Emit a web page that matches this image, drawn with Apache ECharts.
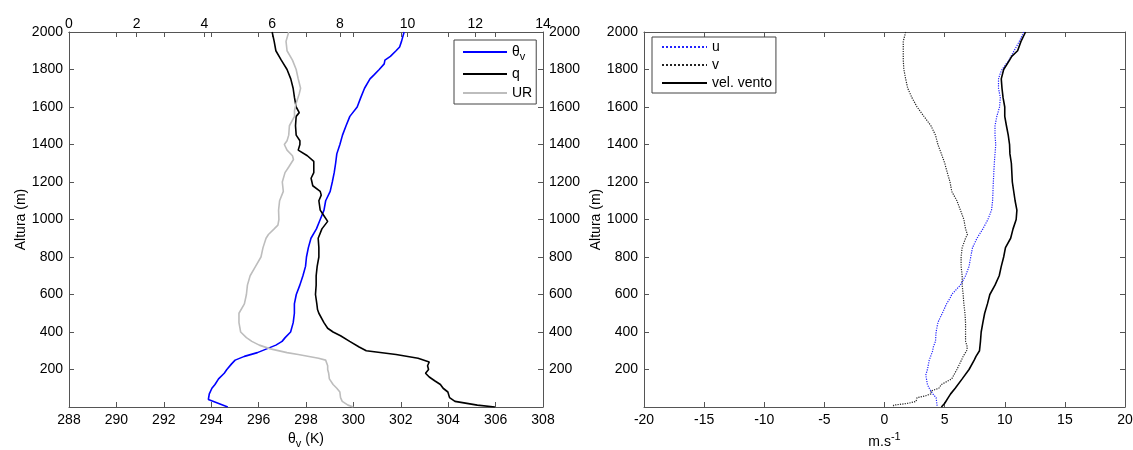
<!DOCTYPE html>
<html>
<head>
<meta charset="utf-8">
<script src="https://cdn.jsdelivr.net/npm/echarts@6/dist/echarts.min.js"></script>
<style>
  html, body { margin: 0; padding: 0; background: #fff; }
  #chart { width: 1133px; height: 450px; }
</style>
</head>
<body>
<div id="chart"></div>
<script>
// Virtual potential temperature profile (K) vs height (m)
const thetaAlt = [2000,1950,1920,1900,1870,1850,1830,1800,1770,1750,1700,1650,1600,1550,1500,1450,1400,1350,1300,1250,1200,1150,1100,1050,1000,950,900,850,800,750,700,650,600,550,500,450,400,370,350,330,310,290,270,250,230,200,180,150,120,100,70,40,30,0];
const thetaV = [302.14,302.03,301.95,301.80,301.56,301.33,301.30,301.09,300.86,300.70,300.47,300.31,300.16,299.85,299.69,299.54,299.43,299.30,299.25,299.19,299.11,299.02,298.83,298.76,298.60,298.44,298.21,298.10,298.02,297.98,297.87,297.74,297.59,297.51,297.51,297.46,297.35,297.12,296.99,296.73,296.34,295.95,295.40,295.01,294.86,294.66,294.55,294.31,294.16,294.03,293.92,293.88,293.85,294.70];

// Specific humidity (top axis)
const qAlt = [2000,1950,1900,1850,1800,1750,1700,1650,1600,1570,1550,1500,1450,1420,1400,1370,1340,1310,1250,1220,1180,1150,1130,1100,1050,1020,990,950,900,850,800,750,700,650,600,550,520,500,450,420,400,380,350,320,300,280,260,240,220,200,180,160,140,120,100,80,50,30,10,0];
const qV = [6.00,6.06,6.11,6.27,6.44,6.55,6.62,6.66,6.71,6.80,6.71,6.69,6.71,6.82,6.82,6.77,7.04,7.23,7.23,7.15,7.20,7.42,7.45,7.38,7.42,7.53,7.64,7.47,7.36,7.38,7.38,7.33,7.30,7.30,7.28,7.32,7.34,7.38,7.53,7.64,7.80,8.02,8.29,8.57,8.78,9.66,10.31,10.64,10.59,10.62,10.53,10.64,10.80,10.97,11.05,11.19,11.24,11.40,12.06,12.58];

// Relative humidity (top axis)
const urAlt = [2000,1950,1900,1850,1800,1750,1700,1670,1620,1580,1550,1500,1450,1420,1400,1370,1340,1320,1280,1250,1200,1150,1100,1050,1000,970,950,920,900,850,800,750,700,650,600,550,500,450,400,370,350,330,310,290,280,260,250,220,200,180,150,120,100,80,50,30,10,0];
const urV = [6.49,6.41,6.44,6.60,6.71,6.77,6.84,6.80,6.71,6.66,6.66,6.51,6.49,6.44,6.36,6.44,6.60,6.63,6.49,6.38,6.30,6.33,6.22,6.19,6.20,6.17,6.06,5.89,5.82,5.73,5.67,5.51,5.35,5.27,5.24,5.18,5.02,5.02,5.07,5.24,5.40,5.62,5.95,6.44,6.77,7.37,7.58,7.64,7.64,7.67,7.69,7.80,7.91,8.00,8.02,8.07,8.24,8.40];

// Wind components and speed (m/s)
const uAlt = [2000,1950,1900,1850,1800,1780,1750,1700,1650,1600,1550,1500,1450,1400,1300,1200,1100,1050,1000,950,900,850,800,750,700,650,600,580,550,500,470,450,400,350,320,300,250,200,170,150,120,100,70,50,20,0];
const uV = [11.59,11.21,10.78,10.35,9.77,9.63,9.48,9.48,9.63,9.57,9.34,9.19,9.19,9.25,9.13,9.05,8.99,8.90,8.60,8.18,7.69,7.32,7.17,7.03,6.74,6.31,5.59,5.45,5.16,4.81,4.58,4.44,4.29,4.24,4.06,4.01,3.72,3.57,3.43,3.49,3.57,3.72,4.01,4.29,4.35,4.38];

const vAlt = [2000,1950,1900,1850,1800,1750,1700,1650,1600,1550,1500,1450,1400,1350,1300,1250,1200,1150,1100,1050,1000,950,920,900,850,800,750,700,650,600,550,500,450,400,350,320,300,270,250,200,150,120,100,85,70,60,50,30,20,10,0];
const vV = [1.76,1.56,1.56,1.56,1.61,1.76,1.93,2.28,2.71,3.28,3.86,4.24,4.44,4.73,5.01,5.22,5.45,5.59,6.02,6.31,6.60,6.74,6.89,6.74,6.46,6.37,6.37,6.46,6.46,6.54,6.60,6.69,6.74,6.74,6.74,6.89,6.83,6.54,6.40,6.02,5.59,4.73,4.52,3.86,3.86,3.43,2.71,2.62,1.99,0.78,0.69];

const wsAlt = [2000,1950,1900,1870,1850,1800,1750,1700,1650,1600,1550,1500,1450,1400,1350,1300,1200,1100,1050,1000,950,900,850,800,750,700,650,600,550,500,450,400,350,300,270,250,200,150,100,70,50,20,0];
const wsV = [11.73,11.35,11.07,10.58,10.40,9.91,9.71,9.77,9.86,10.00,10.00,10.14,10.29,10.40,10.43,10.55,10.63,10.86,11.01,10.95,10.69,10.49,10.06,9.91,9.71,9.54,9.19,8.76,8.56,8.33,8.18,8.04,7.98,7.90,7.61,7.46,7.03,6.46,5.88,5.50,5.30,5.01,4.73];

const pairs = (xs, ys) => xs.map((x, i) => [x, ys[i]]);

const FONT = "'Liberation Sans', Arial, sans-serif";
const AXIS_COLOR = '#555';
const FS = 14;
const textStyle = { color: '#000', fontFamily: FONT, fontSize: FS };
const plain = v => String(v);

function xAx(opts, labelOpts) {
  return Object.assign({
    type: 'value',
    axisLine: { show: true, onZero: false, lineStyle: { color: AXIS_COLOR, width: 1 } },
    axisTick: { show: true, inside: true, length: 5, lineStyle: { color: AXIS_COLOR } },
    axisLabel: Object.assign({ margin: 6, formatter: plain }, textStyle, labelOpts || {}),
    splitLine: { show: false }
  }, opts);
}
function yAx(opts, labelOpts) {
  return Object.assign({
    type: 'value', min: 0, max: 2000, interval: 200,
    axisLine: { show: true, onZero: false, lineStyle: { color: AXIS_COLOR, width: 1 } },
    axisTick: { show: true, inside: true, length: 5, lineStyle: { color: AXIS_COLOR } },
    axisLabel: Object.assign({ margin: 6, showMinLabel: false, formatter: plain }, textStyle, labelOpts || {}),
    splitLine: { show: false }
  }, opts);
}

const subRich = {
  t: { fontSize: FS, fontFamily: FONT, color: '#000' },
  s: { fontSize: 11, fontFamily: FONT, color: '#000', padding: [9, 0, 0, 0] },
  p: { fontSize: 11, fontFamily: FONT, color: '#000', padding: [0, 0, 9, 0] }
};

// Both panels share the same vertical extent; outer-bounds shrinking is turned off
// so the plot rectangles stay exactly where they are placed.
const LEFT_RECT = { left: 69, right: 590, top: 32, bottom: 43, outerBoundsMode: 'none', containLabel: false };
const RIGHT_RECT = { left: 644, right: 8, top: 32, bottom: 43, outerBoundsMode: 'none', containLabel: false };

const chart = echarts.init(document.getElementById('chart'), null, { renderer: 'canvas' });

chart.setOption({
  animation: false,
  backgroundColor: '#fff',
  textStyle: { fontFamily: FONT },
  grid: [
    Object.assign({}, LEFT_RECT),
    Object.assign({}, RIGHT_RECT),
    Object.assign({}, LEFT_RECT)   // overlay holding the θ ticks along the top edge
  ],
  xAxis: [
    xAx({ gridIndex: 0, position: 'bottom', min: 288, max: 308, interval: 2,
      name: '{t|θ}{s|v}{t| (K)}', nameLocation: 'middle', nameGap: 22,
      nameTextStyle: Object.assign({}, textStyle, { rich: subRich }) }),
    xAx({ gridIndex: 0, position: 'top', min: 0, max: 14, interval: 2 }, { margin: 1 }),
    xAx({ gridIndex: 1, position: 'bottom', min: -20, max: 20, interval: 5,
      name: '{t|m.s}{p|-1}', nameLocation: 'middle', nameGap: 21,
      nameTextStyle: Object.assign({}, textStyle, { rich: subRich }) }),
    xAx({ gridIndex: 1, position: 'top', min: -20, max: 20, interval: 5 }, { show: false }),
    xAx({ gridIndex: 2, position: 'top', min: 288, max: 308, interval: 2 }, { show: false })
  ],
  yAxis: [
    yAx({ gridIndex: 0, position: 'left', name: 'Altura (m)', nameLocation: 'middle',
      nameGap: 38, nameRotate: 90, nameTextStyle: textStyle }),
    yAx({ gridIndex: 0, position: 'right' }),
    yAx({ gridIndex: 1, position: 'left', name: 'Altura (m)', nameLocation: 'middle',
      nameGap: 34, nameRotate: 90, nameTextStyle: textStyle }),
    yAx({ gridIndex: 1, position: 'right' }, { show: false }),
    yAx({ gridIndex: 2, show: false })
  ],
  legend: [
    {
      data: ['θv', 'q', 'UR'],
      orient: 'vertical', left: 454, top: 40,
      itemWidth: 44, itemHeight: 14, itemGap: 5, itemTextGap: 5,
      padding: [5, 4, 4, 8],
      itemStyle: { opacity: 0 },
      borderColor: '#444', borderWidth: 1, backgroundColor: '#fff',
      formatter: n => (n === 'θv' ? '{t|θ}{s|v}' : '{t|' + n + '}'),
      textStyle: Object.assign({}, textStyle, { rich: subRich })
    },
    {
      data: ['u', 'v', 'vel. vento'],
      orient: 'vertical', left: 652, top: 37,
      itemWidth: 45, itemHeight: 14, itemGap: 4, itemTextGap: 5,
      padding: [3, 4, 3, 9],
      itemStyle: { opacity: 0 },
      borderColor: '#444', borderWidth: 1, backgroundColor: '#fff',
      textStyle: textStyle
    }
  ],
  series: [
    { name: 'θv', type: 'line', xAxisIndex: 0, yAxisIndex: 0, symbol: 'none',
      lineStyle: { color: '#0000ff', width: 1.6 }, itemStyle: { color: '#0000ff' },
      data: pairs(thetaV, thetaAlt) },
    { name: 'q', type: 'line', xAxisIndex: 1, yAxisIndex: 0, symbol: 'none',
      lineStyle: { color: '#000', width: 1.6 }, itemStyle: { color: '#000' },
      data: pairs(qV, qAlt) },
    { name: 'UR', type: 'line', xAxisIndex: 1, yAxisIndex: 0, symbol: 'none',
      lineStyle: { color: '#bdbdbd', width: 1.6 }, itemStyle: { color: '#bdbdbd' },
      data: pairs(urV, urAlt) },
    { name: 'u', type: 'line', xAxisIndex: 2, yAxisIndex: 2, symbol: 'none',
      lineStyle: { color: '#2222ff', width: 1.2, type: 'dotted' }, itemStyle: { color: '#2222ff' },
      data: pairs(uV, uAlt) },
    { name: 'v', type: 'line', xAxisIndex: 2, yAxisIndex: 2, symbol: 'none',
      lineStyle: { color: '#222', width: 1.2, type: 'dotted' }, itemStyle: { color: '#222' },
      data: pairs(vV, vAlt) },
    { name: 'vel. vento', type: 'line', xAxisIndex: 2, yAxisIndex: 2, symbol: 'none',
      lineStyle: { color: '#000', width: 1.6 }, itemStyle: { color: '#000' },
      data: pairs(wsV, wsAlt) }
  ]
});
</script>
</body>
</html>
